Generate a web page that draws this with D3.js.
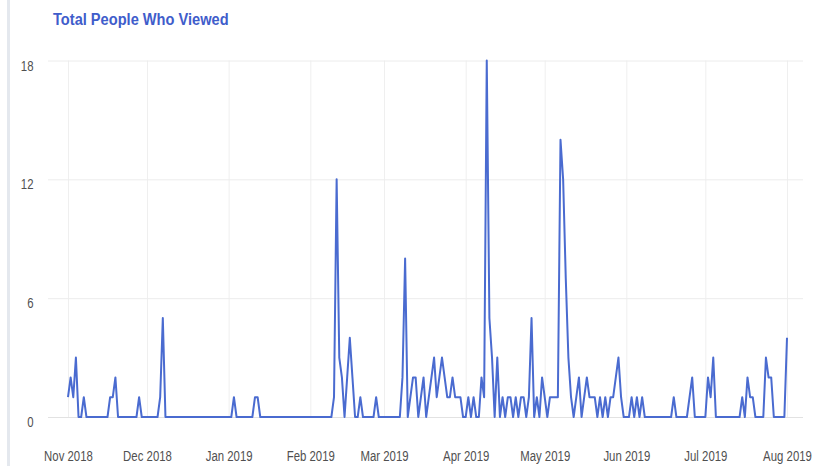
<!DOCTYPE html>
<html><head><meta charset="utf-8">
<script src="https://cdn.jsdelivr.net/npm/d3@7"></script>
<style>html,body{margin:0;padding:0;background:#fff;overflow:hidden}</style>
</head><body><svg id="chart" width="815" height="466"></svg>
<script>
const titleText = "Total People Who Viewed";
const seriesStart = "2018-11-01";
const viewsNov2018 = [1,2,1,3,0,0,1,0,0,0, 0,0,0,0,0,0,1,1,2,0, 0,0,0,0,0,0,0,1,0,0];
const viewsDec2018 = [0,0,0,0,0,1,5,0,0,0, 0,0,0,0,0,0,0,0,0,0, 0,0,0,0,0,0,0,0,0,0, 0];
const viewsJan2019 = [0,0,1,0,0,0,0,0,0,0, 1,1,0,0,0,0,0,0,0,0, 0,0,0,0,0,0,0,0,0,0, 0];
const viewsFeb2019 = [0,0,0,0,0,0,0,0,0,1, 12,3,2,0,2,4,2,0,0,1, 0,0,0,0,0,1,0,0];
const viewsMar2019 = [0,0,0,0,0,0,0,2,8,0, 1,2,2,0,1,2,0,1,2,3, 1,2,3,2,1,1,2,1,1,1, 0];
const viewsApr2019 = [0,1,0,1,0,0,2,1,18,5, 3,0,3,0,1,0,1,1,0,1, 0,1,1,0,1,5,0,1,0,2];
const viewsMay2019 = [1,0,1,1,1,1,14,12,7,3, 1,0,1,2,0,1,2,1,1,1, 0,1,0,1,0,1,1,2,3,1, 0];
const viewsJun2019 = [0,0,1,0,1,0,1,0,0,0, 0,0,0,0,0,0,0,0,1,0, 0,0,0,0,1,2,0,0,0,0];
const viewsJul2019 = [0,2,1,3,0,0,0,0,0,0, 0,0,0,0,1,0,2,1,1,0, 0,0,0,3,2,2,0,0,0,0, 0];
const viewsAug2019 = [4];
const yTickValues = [0, 6, 12, 18];
const xTickDates = ["2018-11-01","2018-12-01","2019-01-01","2019-02-01","2019-03-01","2019-04-01","2019-05-01","2019-06-01","2019-07-01","2019-08-01"];
const xTickLabels = ["Nov 2018","Dec 2018","Jan 2019","Feb 2019","Mar 2019","Apr 2019","May 2019","Jun 2019","Jul 2019","Aug 2019"];

const parse = d3.utcParse("%Y-%m-%d");
const allViews = [].concat(viewsNov2018, viewsDec2018, viewsJan2019, viewsFeb2019, viewsMar2019,
  viewsApr2019, viewsMay2019, viewsJun2019, viewsJul2019, viewsAug2019);
const start = parse(seriesStart);
const data = allViews.map((v, i) => ({date: d3.utcDay.offset(start, i), value: v}));

const svg = d3.select("#chart");
const font = "'Liberation Sans', Arial, sans-serif";
const plotLeft = 48, plotRight = 803, plotTop = 60.5, plotBottom = 417;

const x = d3.scaleUtc().domain([parse(xTickDates[0]), parse(xTickDates[xTickDates.length-1])]).range([68, 787]);
const y = d3.scaleLinear().domain([0, 18]).range([plotBottom, plotTop]);

svg.append("rect").attr("width", 815).attr("height", 466).attr("fill", "#fff");
svg.append("rect").attr("x", 7).attr("y", 0).attr("width", 3).attr("height", 466).attr("fill", "#e4e8ee");

// title
svg.append("text")
  .attr("transform", "translate(53,25) scale(0.86,1)")
  .attr("font-family", font).attr("font-size", 17).attr("font-weight", "bold")
  .attr("fill", "#3f5dcb").text(titleText);

// x axis with vertical gridlines
const xAxis = svg.append("g").attr("transform", `translate(0,${plotBottom})`)
  .call(d3.axisBottom(x).tickValues(xTickDates.map(parse))
    .tickFormat((d, i) => xTickLabels[i]).tickSize(-(plotBottom - plotTop)).tickPadding(0));
xAxis.select(".domain").remove();
xAxis.selectAll(".tick line").attr("stroke", "#efefef");
xAxis.selectAll(".tick text")
  .attr("y", null).attr("dy", null)
  .attr("transform", "translate(0,44) scale(0.76,1)")
  .attr("text-anchor", "middle")
  .attr("font-family", font).attr("font-size", 15).attr("fill", "#505050");

// y axis with horizontal gridlines
const yAxis = svg.append("g").attr("transform", `translate(${plotLeft},0)`)
  .call(d3.axisLeft(y).tickValues(yTickValues).tickSize(-(plotRight - plotLeft)).tickPadding(0));
yAxis.select(".domain").remove();
yAxis.selectAll(".tick line").attr("stroke", d => d === 0 ? "#e2e2e2" : "#ececec");
yAxis.selectAll(".tick text")
  .attr("x", null).attr("dy", null)
  .attr("transform", "translate(-14.5,9.5) scale(0.76,1)")
  .attr("text-anchor", "end")
  .attr("font-family", font).attr("font-size", 15).attr("fill", "#505050");

// line
const line = d3.line().x(d => x(d.date)).y(d => y(d.value));
svg.append("path").datum(data)
  .attr("d", line).attr("fill", "none")
  .attr("stroke", "#4a6bd0").attr("stroke-width", 2)
  .attr("stroke-linejoin", "round");
</script></body></html>
